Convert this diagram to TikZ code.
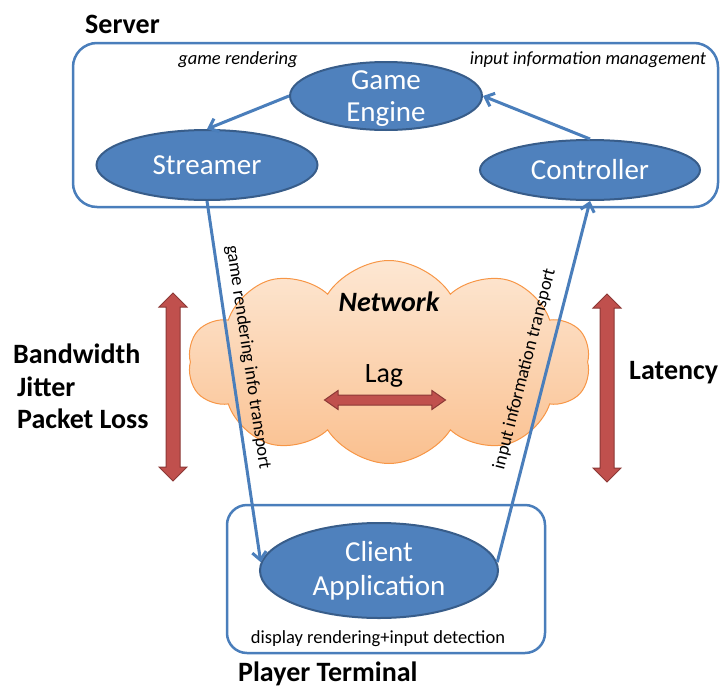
\documentclass[tikz,border=0pt]{standalone}
\usepackage{fontspec}
\setmainfont{Carlito}
\usepackage{xcolor}
\usepackage{tikz}
\usetikzlibrary{shapes}
\usetikzlibrary{shapes.geometric}
\usetikzlibrary{shapes.symbols}
\usetikzlibrary{shapes.arrows}
\usetikzlibrary{arrows.meta}
\usetikzlibrary{positioning}

\definecolor{panelblue}{HTML}{4A7EBB}
\definecolor{blobfill}{HTML}{4F81BD}
\definecolor{blobline}{HTML}{385D8A}
\definecolor{linkblue}{HTML}{4A7EBB}
\definecolor{cloudline}{HTML}{F79646}
\definecolor{cloudtop}{HTML}{FDE7D3}
\definecolor{cloudbot}{HTML}{FAC08F}
\definecolor{redfill}{HTML}{C0504D}
\definecolor{redline}{HTML}{8C3836}

\begin{document}
\begin{tikzpicture}[
		x=1pt,
		y=-1pt,
		/utils/exec={\fontsize{28pt}{32pt}\selectfont},
		>={Straight Barb[length=8pt,width=14pt]}
	]
		\tikzset{panel/.style={
			draw=panelblue,
			line width=2.5,
			rectangle,
			rounded corners=24,
		}}
		\tikzset{blob/.style={
			ellipse,
			draw=blobline,
			line width=2,
			fill=blobfill,
			text=white,
			align=center,
			inner sep=0,
			font=\fontsize{29pt}{34pt}\selectfont,
		}}
		\tikzset{link/.style={
			draw=linkblue,
			line width=3,
		}}
		\tikzset{redarrow/.style={
			double arrow,
			draw=redline,
			fill=redfill,
			line width=1,
			inner xsep=0,
			double arrow tip angle=90,
		}}
		\tikzset{tag/.style={
			font=\bfseries,
			inner sep=0,
		}}
		\tikzset{small/.style={
			font=\fontsize{18.5pt}{20pt}\selectfont,
			inner sep=0,
		}}
		\tikzset{smallit/.style={
			font=\fontsize{18.5pt}{20pt}\selectfont\itshape,
			inner sep=0,
		}}

		\useasboundingbox (0,0) rectangle (720,688);

		\node[panel, minimum width=645, minimum height=164] (server) at (395.5,125) {};
		\node[panel, minimum width=318, minimum height=148, rounded corners=20] (terminal) at (386,579) {};

		\node[cloud, cloud puffs=10, cloud puff arc=115, aspect=2,
			draw=cloudline, line width=1, top color=cloudtop, bottom color=cloudbot,
			minimum width=402, minimum height=203, inner sep=0] (net) at (389,362) {};

		\node[blob, minimum width=192, minimum height=68, inner ysep=-6pt, text depth=0pt,
			font=\fontsize{29pt}{32pt}\selectfont] (engine) at (386,96) {Game\\Engine};
		\node[blob, minimum width=221, minimum height=70] (streamer) at (207,165) {Streamer};
		\node[blob, minimum width=220, minimum height=60] (controller) at (590,170) {Controller};
		\node[blob, minimum width=238, minimum height=95] (client) at (379,570.5) {Client\\Application};

		\draw[link, ->] (engine.west) -- (streamer.north);
		\draw[link, ->] (controller.north) -- (engine.east);
		\draw[link, ->] (streamer.south) --
			node[small, sloped, above=8pt, pos=.44] {game rendering info transport} (client.176);
		\draw[link, ->] (client.4) --
			node[small, sloped, above=12pt, pos=.52] {input information transport} (controller.south);

		\node[tag, anchor=base west] (srvlabel) at (85,33) {Server};
		\node[smallit, anchor=base] (render) at (238,64) {game rendering};
		\node[smallit, anchor=base] (manage) at (588,64) {input information management};
		\node[tag, anchor=base, font=\bfseries\itshape] (nettext) at (389,311) {Network};
		\node[anchor=base, inner sep=0] (lag) at (384,382) {Lag};
		\node[tag, anchor=base west] (bw) at (13,363) {Bandwidth};
		\node[tag, anchor=base west] (jit) at (17,396) {Jitter};
		\node[tag, anchor=base west] (loss) at (17,428) {Packet Loss};
		\node[tag, anchor=base west] (lat) at (629,379) {Latency};
		\node[small, anchor=base] (detect) at (378,643) {display rendering+input detection};
		\node[tag, anchor=base west] (ptlabel) at (238,681) {Player Terminal};

		\node[redarrow, rotate=90, minimum height=188, inner ysep=6.5pt, double arrow head extend=7pt] (leftarrow) at (173,387) {};
		\node[redarrow, rotate=90, minimum height=188, inner ysep=6.5pt, double arrow head extend=7pt] (rightarrow) at (607,388) {};
		\node[redarrow, minimum height=121, inner ysep=4.5pt, double arrow head extend=4.5pt, double arrow tip angle=70] (lagarrow) at (385,400) {};
	\end{tikzpicture}
\end{document}
